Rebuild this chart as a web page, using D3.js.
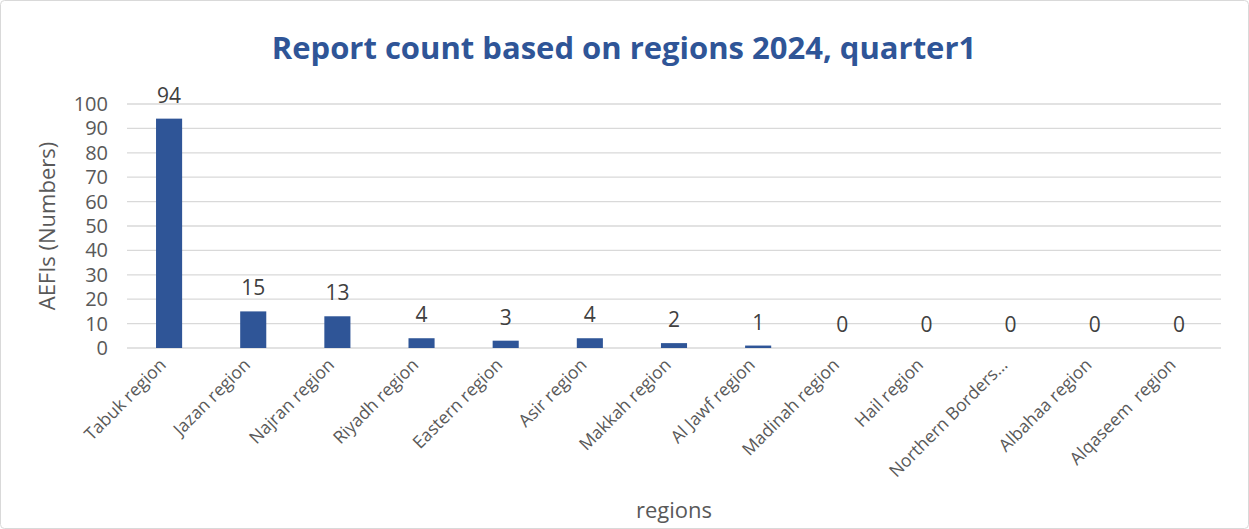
<!DOCTYPE html>
<html>
<head>
<meta charset="utf-8">
<script src="https://cdn.jsdelivr.net/npm/d3@7"></script>
<style>
  body { margin: 0; background: #fff; }
  svg { display: block; font-family: "Open Sans", "Noto Sans", sans-serif; }
</style>
</head>
<body>
<svg id="chart" width="1249" height="529"></svg>
<script>
const regions = [
  "Tabuk region", "Jazan region", "Najran region", "Riyadh region",
  "Eastern region", "Asir region", "Makkah region", "Al Jawf region",
  "Madinah region", "Hail region", "Northern Borders\u2026", "Albahaa region",
  "Alqaseem  region"
];
const counts = [94, 15, 13, 4, 3, 4, 2, 1, 0, 0, 0, 0, 0];
const yTicks = [0, 10, 20, 30, 40, 50, 60, 70, 80, 90, 100];

const svg = d3.select("#chart");
const W = 1249, H = 529;
const m = { top: 104, right: 28, bottom: 181, left: 127 };
const iw = W - m.left - m.right, ih = H - m.top - m.bottom;

svg.append("rect")
  .attr("x", 0.5).attr("y", 0.5)
  .attr("width", W - 1).attr("height", H - 1)
  .attr("rx", 4)
  .attr("fill", "#fff").attr("stroke", "#d9d9d9");

const x = d3.scaleBand().domain(regions).range([0, iw]).paddingInner(0.69).paddingOuter(0.345);
const y = d3.scaleLinear().domain([0, 100]).range([ih, 0]);

const g = svg.append("g").attr("transform", `translate(${m.left},${m.top})`);

// gridlines
g.append("g")
  .selectAll("line")
  .data(yTicks)
  .join("line")
  .attr("x1", 0).attr("x2", iw)
  .attr("y1", d => y(d)).attr("y2", d => y(d))
  .attr("stroke", "#d9d9d9").attr("stroke-width", 1.3);

// y axis labels
const yAxis = g.append("g").call(d3.axisLeft(y).tickValues(yTicks).tickSize(0).tickPadding(19));
yAxis.select(".domain").remove();
yAxis.selectAll("text").attr("font-size", 20).attr("fill", "#595959").attr("font-family", "Open Sans, sans-serif");

// bars
g.selectAll("rect.bar")
  .data(counts)
  .join("rect")
  .attr("class", "bar")
  .attr("x", (d, i) => x(regions[i]))
  .attr("y", d => y(d))
  .attr("width", x.bandwidth())
  .attr("height", d => ih - y(d))
  .attr("fill", "#2f5597");

// value labels
g.selectAll("text.val")
  .data(counts)
  .join("text")
  .attr("class", "val")
  .attr("x", (d, i) => x(regions[i]) + x.bandwidth() / 2)
  .attr("y", d => y(d) - 16)
  .attr("text-anchor", "middle")
  .attr("font-size", 21)
  .attr("fill", "#404040")
  .text(d => d);

// x axis labels
const xAxis = g.append("g")
  .attr("transform", `translate(0,${ih})`)
  .call(d3.axisBottom(x).tickSize(0).tickPadding(0));
xAxis.select(".domain").remove();
xAxis.selectAll("text")
  .attr("font-size", 17.5)
  .attr("fill", "#595959")
  .attr("font-family", "Open Sans, sans-serif")
  .style("white-space", "pre")
  .attr("text-anchor", "end")
  .attr("dy", null)
  .attr("transform", "translate(-2,18) rotate(-45)");

// title
svg.append("text")
  .attr("x", 624).attr("y", 59)
  .attr("text-anchor", "middle")
  .attr("font-size", 31)
  .attr("font-weight", "bold")
  .attr("fill", "#2f5597")
  .text("Report count based on regions 2024, quarter1");

// axis titles
svg.append("text")
  .attr("transform", `translate(55,${m.top + ih / 2}) rotate(-90)`)
  .attr("text-anchor", "middle")
  .attr("font-size", 22)
  .attr("fill", "#595959")
  .text("AEFIs (Numbers)");

svg.append("text")
  .attr("x", 674).attr("y", 518)
  .attr("text-anchor", "middle")
  .attr("font-size", 22)
  .attr("fill", "#595959")
  .text("regions");
</script>
</body>
</html>
